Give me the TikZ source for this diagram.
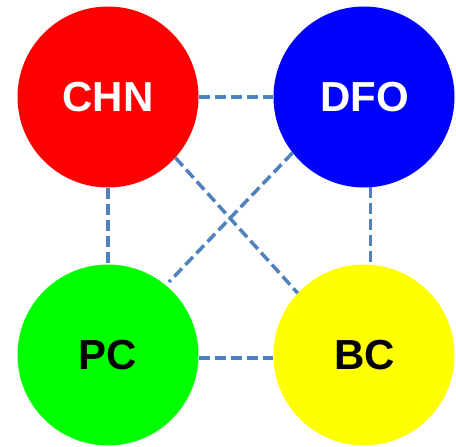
\documentclass[tikz,border=0pt]{standalone}
\usepackage{fontspec}
\setmainfont{Liberation Sans}
\begin{document}
\begin{tikzpicture}[x=1pt,y=-1pt,
  ball/.style={circle,minimum size=181pt,inner sep=0pt,font=\fontsize{42}{42}\selectfont\bfseries},
  link/.style={draw=linkblue,line width=3.5pt,dash pattern=on 11pt off 5pt}]
\definecolor{linkblue}{HTML}{4F81BD}
\useasboundingbox (0,0) rectangle (456,447);
\node[ball,fill={rgb,255:red,255;green,0;blue,0},text=white] (chn) at (108,97) {CHN};
\node[ball,fill={rgb,255:red,0;green,0;blue,255},text=white] (dfo) at (364,97) {\hspace{1pt}DFO};
\node[ball,fill={rgb,255:red,0;green,255;blue,0},text=black] (pc) at (108,355) {PC};
\node[ball,fill={rgb,255:red,255;green,255;blue,0},text=black] (bc) at (364,355) {\hspace{1pt}BC};
\coordinate (pcend) at (169,282);
\draw[link] (chn.0) -- (dfo.180);
\draw[link] (chn.-90) -- (pc.90);
\draw[link] (dfo.-86.8) -- (bc.86.8);
\draw[link] (pc.-2.5) -- (bc.182.5);
\draw[link] (chn.-42) -- (bc.137);
\draw[link] (dfo.-142) -- (pcend);
\end{tikzpicture}
\end{document}
